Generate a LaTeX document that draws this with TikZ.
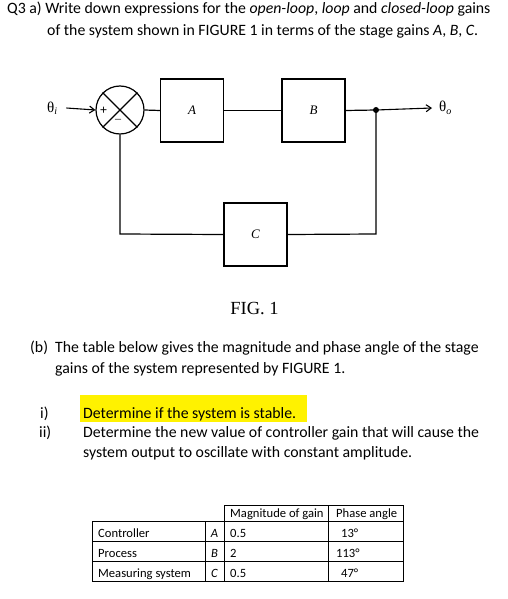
\documentclass[tikz,border=0pt]{standalone}
\usepackage{fontspec}
\setmainfont{Carlito}
\newfontfamily\figfont{Liberation Serif}
\usetikzlibrary{arrows.meta, positioning}

\begin{document}
\begin{tikzpicture}[
    x=1pt, y=-1pt,
    block/.style={rectangle, draw, line width=1.2pt, minimum size=63pt, inner sep=0pt, font=\figfont\fontsize{13}{15}\selectfont\itshape},
    arrow/.style={line width=1.1pt, -{Straight Barb[length=5pt, width=7pt]}},
    wire/.style={line width=1.2pt},
    txt/.style={anchor=base west, inner sep=0pt, font=\fontsize{15.8}{18}\selectfont},
    cell/.style={anchor=base west, inner sep=0pt, font=\fontsize{12.6}{15}\selectfont},
    grid/.style={line width=0.8pt}
]
\useasboundingbox (0,0) rectangle (507,599);

% question (a)
\node (qa1) [txt] at (7,14) {Q3 a) Write down expressions for the \textit{open-loop}, \textit{loop} and \textit{closed-loop} gains};
\node (qa2) [txt] at (47,35.5) {of the system shown in FIGURE 1 in terms of the stage gains \textit{A}, \textit{B}, \textit{C}.};

% block diagram
\node (sum) [circle, draw, line width=1.2pt, minimum size=48pt, inner sep=0pt] at (120,110) {};
\draw [wire] (sum.north west) -- (sum.south east);
\draw [wire] (sum.north east) -- (sum.south west);
\node (plus) [font=\figfont\fontsize{13}{13}\selectfont\bfseries] at (103.5,110.5) {+};
\node (minus) [font=\figfont\fontsize{12}{12}\selectfont] at (118,121) {–};

\node (ga) [block] at (192,110.5) {A};
\node (gb) [block] at (313.5,110.5) {B};
\node (gc) [block] at (255.5,234.5) {C};
\coordinate (split) at (376,110);
\coordinate (bl) at (120,234);
\coordinate (br) at (376,234);

\node (thetai) [anchor=west, inner sep=0pt, font=\figfont\fontsize{15}{16}\selectfont] at (47,108) {θ\raisebox{-0.35ex}{\fontsize{10}{10}\selectfont\itshape i}};
\node (thetao) [anchor=west, inner sep=0pt, font=\figfont\fontsize{15}{16}\selectfont] at (439,108) {θ\raisebox{-0.35ex}{\fontsize{10}{10}\selectfont\itshape o}};

\draw [arrow] ([xshift=9pt]thetai.east) -- (sum.west);
\draw [wire] (sum.east) -- (ga.west);
\draw [wire] (ga.east) -- (gb.west);
\draw [wire] (gb.east) -- (split);
\draw [arrow] (split) -- ([xshift=-7pt]thetao.west);
\fill (split) circle (3pt);
\draw [wire] (split) -- (br) -- (gc.east);
\draw [wire] (gc.west) -- (bl) -- (sum.south);

\node (fig) [font=\figfont\fontsize{18.5}{20}\selectfont] at (254.5,309) {FIG. 1};

% question (b)
\node (qb1) [txt] at (30,352) {(b)\ \ The table below gives the magnitude and phase angle of the stage};
\node (qb2) [txt] at (55,373) {gains of the system represented by FIGURE 1.};

\fill [yellow] (80,395) rectangle (307,422);
\node (n1) [txt] at (40,418) {i)};
\node (p1) [txt] at (83,418) {Determine if the system is stable.};
\node (n2) [txt] at (39,437) {ii)};
\node (p2) [txt] at (83,437) {Determine the new value of controller gain that will cause the};
\node (p3) [txt] at (83,457) {system output to oscillate with constant amplitude.};

% table
\draw [grid] (224,505) rectangle (403,521);
\draw [grid] (92,521) rectangle (403,581);
\foreach \y in {541,561} \draw [grid] (92,\y) -- (403,\y);
\draw [grid] (205,521) -- (205,581);
\draw [grid] (224,505) -- (224,581);
\draw [grid] (328,505) -- (328,581);

\node (hmag) [cell] at (230,517) {Magnitude of gain};
\node (hph) [cell] at (336,517) {Phase angle};
\foreach \nm/\lt/\mg/\ph/\px/\y/\k in {Controller/A/0.5/13/341/537/1, Process/B/2/113/336/557/2, Measuring system/C/0.5/47/341/577/3} {
    \node (name\k) [cell] at (98,\y) {\nm};
    \node (ltr\k) [cell, anchor=base] at (214.5,\y) {\textit{\lt}};
    \node (mag\k) [cell] at (230,\y) {\mg};
    \node (ph\k) [cell] at (\px,\y) {\ph°};
}
\end{tikzpicture}
\end{document}
